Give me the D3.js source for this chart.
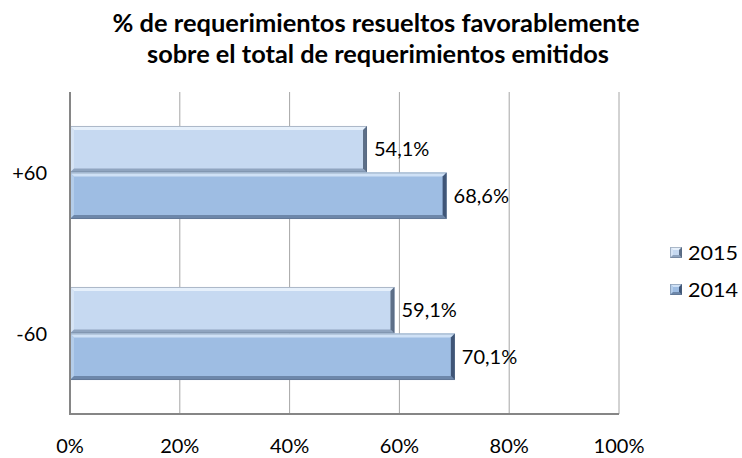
<!DOCTYPE html>
<html><head><meta charset="utf-8">
<script src="https://cdn.jsdelivr.net/npm/d3@7"></script>
<style>body{margin:0;background:#fff}svg{display:block}text{font-family:Lato,"Open Sans",sans-serif}</style>
</head><body><div id="chart"></div>
<script>
const titleLines = ["% de requerimientos resueltos favorablemente", "sobre el total de requerimientos emitidos"];
const categories = ["+60", "-60"];
const seriesNames = ["2015", "2014"];
const values2015 = [54.1, 59.1];
const values2014 = [68.6, 70.1];
const xTicks = [0, 20, 40, 60, 80, 100];
const labels2015 = ["54,1%", "59,1%"];
const labels2014 = ["68,6%", "70,1%"];

const W = 742, H = 458;
const m = {left: 70, right: 123, top: 92, bottom: 44};
const svg = d3.select("#chart").append("svg").attr("width", W).attr("height", H);

const x = d3.scaleLinear().domain([0, 100]).range([m.left, W - m.right]);
const y = d3.scaleBand().domain(categories).range([m.top, H - m.bottom]).paddingInner(0.422).paddingOuter(0.211);
const ySub = d3.scaleBand().domain(seriesNames).range([0, y.bandwidth()]);

const styles = {
  "2015": {face: "#c6d9f1", top: "#e6f0fb", left: "#d6e4f5", bottom: "#8fa4bf", right: "#5d6f88"},
  "2014": {face: "#9ebde3", top: "#cfe1f6", left: "#b4cdea", bottom: "#6d87aa", right: "#3f5577"}
};

// title
const titleX = [376, 378], titleY = [32, 63], titleLen = [527, 462];
svg.append("g").selectAll("text").data(titleLines).join("text")
  .attr("x", (d, i) => titleX[i]).attr("y", (d, i) => titleY[i])
  .attr("text-anchor", "middle").attr("font-weight", "bold").attr("font-size", 24)
  .attr("textLength", (d, i) => titleLen[i]).attr("lengthAdjust", "spacingAndGlyphs")
  .attr("fill", "#000").text(d => d);

// gridlines
svg.append("g").selectAll("line").data(xTicks.slice(1)).join("line")
  .attr("x1", d => x(d)).attr("x2", d => x(d))
  .attr("y1", m.top).attr("y2", H - m.bottom)
  .attr("stroke", "#a6a6a6").attr("stroke-width", 1);

// x tick labels
svg.append("g").selectAll("text").data(xTicks).join("text")
  .attr("x", d => x(d)).attr("y", 446).attr("dy", "0.35em")
  .attr("text-anchor", "middle").attr("font-size", 20).attr("fill", "#000")
  .text(d => d + "%");

// category labels
svg.append("g").selectAll("text").data(categories).join("text")
  .attr("x", 47).attr("y", d => y(d) + y.bandwidth() / 2).attr("dy", "0.35em")
  .attr("text-anchor", "end").attr("font-size", 20).attr("fill", "#000")
  .text(d => d);

function bevelBar(g, x0, x1, y0, y1, st, b) {
  b = b || 4;
  g.append("rect").attr("x", x0).attr("y", y0).attr("width", x1 - x0).attr("height", y1 - y0).attr("fill", st.face);
  const poly = (pts, fill) => g.append("polygon").attr("points", pts.map(p => p.join(",")).join(" ")).attr("fill", fill);
  poly([[x0, y0], [x1, y0], [x1 - b, y0 + b], [x0 + b, y0 + b]], st.top);
  poly([[x0, y0], [x0 + b, y0 + b], [x0 + b, y1 - b], [x0, y1]], st.left);
  poly([[x0, y1], [x0 + b, y1 - b], [x1 - b, y1 - b], [x1, y1]], st.bottom);
  poly([[x1, y0], [x1, y1], [x1 - b, y1 - b], [x1 - b, y0 + b]], st.right);
  g.append("rect").attr("x", x0 + 0.5).attr("y", y0 + 0.5).attr("width", x1 - x0 - 1).attr("height", y1 - y0 - 1)
    .attr("fill", "none").attr("stroke", "#52647c").attr("stroke-opacity", 0.4).attr("stroke-width", 1);
}

const series = [
  {name: "2015", values: values2015, labels: labels2015},
  {name: "2014", values: values2014, labels: labels2014}
];
const barsG = svg.append("g");
series.forEach(s => {
  categories.forEach((c, i) => {
    const y0 = y(c) + ySub(s.name), y1 = y0 + ySub.bandwidth();
    bevelBar(barsG, x(0), x(s.values[i]), y0, y1, styles[s.name]);
    barsG.append("text").attr("x", x(s.values[i]) + 7).attr("y", (y0 + y1) / 2).attr("dy", "0.35em")
      .attr("font-size", 20).attr("fill", "#000").text(s.labels[i]);
  });
});

// axes lines
svg.append("line").attr("x1", x(0)).attr("x2", x(0)).attr("y1", m.top).attr("y2", H - m.bottom + 1)
  .attr("stroke", "#868686").attr("stroke-width", 2);
svg.append("line").attr("x1", x(0) - 1).attr("x2", x(100)).attr("y1", H - m.bottom).attr("y2", H - m.bottom)
  .attr("stroke", "#868686").attr("stroke-width", 2);

// legend
const legendY = [253, 290];
const lg = svg.append("g").selectAll("g").data(seriesNames).join("g")
  .attr("transform", (d, i) => `translate(670,${legendY[i]})`);
lg.each(function(d) {
  bevelBar(d3.select(this).append("g"), 0, 12, -6, 5, styles[d], 3);
});
lg.append("text").attr("x", 18).attr("y", 0).attr("dy", "0.35em").attr("font-size", 20).attr("fill", "#000")
  .attr("textLength", 50).attr("lengthAdjust", "spacingAndGlyphs")
  .text(d => d);
</script></body></html>
